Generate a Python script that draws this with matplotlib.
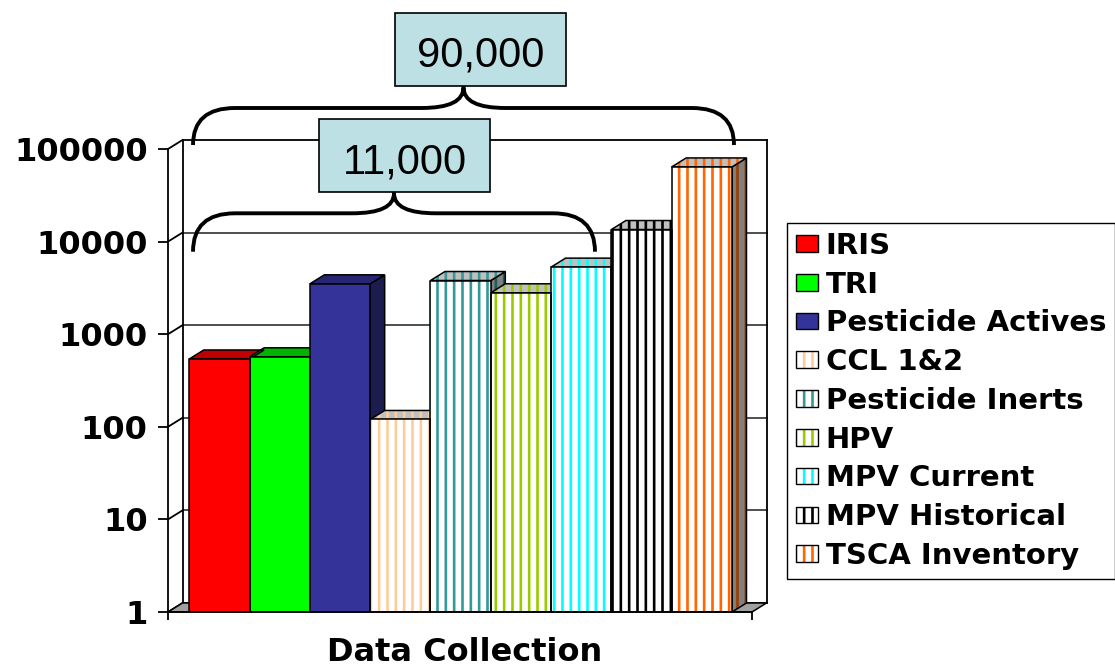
import numpy as np
import matplotlib
matplotlib.use("Agg")
import matplotlib.pyplot as plt
from matplotlib.patches import Polygon, Rectangle, Patch, PathPatch
from matplotlib.path import Path
from matplotlib.transforms import Affine2D, IdentityTransform
from matplotlib.ticker import NullLocator, FixedLocator

# ---- data -------------------------------------------------------------
categories = ["IRIS", "TRI", "Pesticide Actives", "CCL 1&2", "Pesticide Inerts",
              "HPV", "MPV Current", "MPV Historical", "TSCA Inventory"]
counts = [540, 570, 3500, 120, 3800, 2800, 5300, 13500, 64000]
tick_values = [1, 10, 100, 1000, 10000, 100000]
tick_labels = ["1", "10", "100", "1000", "10000", "100000"]
total_label = "90,000"
subset_label = "11,000"
x_title = "Data Collection"

# ---- styling ----------------------------------------------------------
# (front fill, stripe colour or None, top fill, side fill, side stripe colour)
styles = [
    ("#FF0000", None, "#C00000", "#800000", None),
    ("#00FF00", None, "#00B400", "#008000", None),
    ("#333399", None, "#262673", "#1C1C4F", None),
    ("#FFFFFF", "#FFCC99", "#C0C0C0", "#808080", "#B38F6B"),
    ("#FFFFFF", "#339999", "#C0C0C0", "#808080", "#1F5C5C"),
    ("#FFFFFF", "#99CC00", "#C0C0C0", "#808080", "#5C7A00"),
    ("#FFFFFF", "#00FFFF", "#C0C0C0", "#808080", "#009999"),
    ("#FFFFFF", "#000000", "#C0C0C0", "#808080", "#000000"),
    ("#FFFFFF", "#FF6600", "#C0C0C0", "#808080", "#993D00"),
]
STRIPES = "||"
plt.rcParams["hatch.linewidth"] = 1.9
plt.rcParams["font.family"] = ["DejaVu Sans"]

W, H = 1115, 667
fig = plt.figure(figsize=(W / 100, H / 100), dpi=100)
fig.patch.set_facecolor("white")
# transform for annotation geometry given in pixels from the top-left corner
img = Affine2D().scale(1 / W, -1 / H).translate(0, 1) + fig.transFigure

ax = fig.add_axes([168 / W, 1 - 612 / H, 584 / W, 463 / H])
ax.set_facecolor("none")
ax.set_yscale("log")
ax.set_ylim(tick_values[0], tick_values[-1])
xmin, xmax = -0.853, 8.832
ax.set_xlim(xmin, xmax)
x = np.arange(len(categories))

# depth of the pseudo-3D extrusion, in pixels
DX, DY = 14.5, 9.0
ident = IdentityTransform()


def px(xv, yv):
    return ax.transData.transform((xv, yv))


# ---- walls and floor ---------------------------------------------------
fx0, fy0 = px(xmin, tick_values[0])
fx1, _ = px(xmax, tick_values[0])
_, ftop = px(xmin, tick_values[-1])

floor = Polygon([(fx0, fy0), (fx1, fy0), (fx1 + DX, fy0 + DY), (fx0 + DX, fy0 + DY)],
                closed=True, facecolor="#A0A0A0", edgecolor="black", linewidth=1.1,
                transform=ident, clip_on=False, zorder=1)
ax.add_patch(floor)

for v in tick_values:
    _, yy = px(xmin, v)
    col = "black" if v in (tick_values[0], tick_values[-1]) else "#404040"
    ax.add_line(plt.Line2D([fx0 + DX, fx1 + DX], [yy + DY, yy + DY], color=col,
                           linewidth=1.3, transform=ident, clip_on=False, zorder=0.6))
    ax.add_line(plt.Line2D([fx0, fx0 + DX], [yy, yy + DY], color="black",
                           linewidth=1.3, transform=ident, clip_on=False, zorder=0.6))
for xx in (fx0 + DX, fx1 + DX):
    ax.add_line(plt.Line2D([xx, xx], [fy0 + DY, ftop + DY], color="black",
                           linewidth=1.3, transform=ident, clip_on=False, zorder=0.6))

# ---- top and side faces of each column -----------------------------------
for i, v in enumerate(counts):
    face, stripe, top_c, side_c, side_stripe = styles[i]
    (x0, y0) = px(x[i] - 0.5, tick_values[0])
    (x1, yt) = px(x[i] + 0.5, v)
    top = [(x0, yt), (x1, yt), (x1 + DX, yt + DY), (x0 + DX, yt + DY)]
    side = [(x1, y0), (x1 + DX, y0 + DY), (x1 + DX, yt + DY), (x1, yt)]
    for verts, fc, sc, z in ((side, side_c, side_stripe, 2), (top, top_c, stripe, 3)):
        kw = dict(closed=True, transform=ident, clip_on=False)
        if sc is None:
            ax.add_patch(Polygon(verts, facecolor=fc, linewidth=0, zorder=z, **kw))
        else:
            ax.add_patch(Polygon(verts, facecolor=fc, edgecolor=sc, hatch=STRIPES,
                                 linewidth=0, zorder=z, **kw))
        ax.add_patch(Polygon(verts, facecolor="none", edgecolor="black",
                             linewidth=1.1, zorder=z + 0.5, **kw))

# ---- front faces -------------------------------------------------------
heights = np.array(counts, dtype=float) - tick_values[0]
fronts = ax.bar(x, heights, bottom=tick_values[0], width=1.0,
                color=[s[0] for s in styles], linewidth=0, zorder=4)
for p, s in zip(fronts.patches, styles):
    if s[1] is not None:
        p.set_hatch(STRIPES)
        p.set_edgecolor(s[1])
ax.bar(x, heights, bottom=tick_values[0], width=1.0, fill=False,
       edgecolor="black", linewidth=1.1, zorder=4.5)

# ---- axes --------------------------------------------------------------
for side in ("top", "right"):
    ax.spines[side].set_visible(False)
for side in ("left", "bottom"):
    ax.spines[side].set_color("black")
    ax.spines[side].set_linewidth(1.3)
    ax.spines[side].set_zorder(5)
ax.yaxis.set_major_locator(FixedLocator(tick_values))
ax.yaxis.set_minor_locator(NullLocator())
ax.set_yticklabels(tick_labels)
ax.set_xticks([xmin, xmax])
ax.set_xticklabels(["", ""])
ax.tick_params(axis="y", direction="out", length=7.2, width=1.3, pad=7.5,
               labelsize=23)
ax.tick_params(axis="x", direction="out", length=5.8, width=1.3)
for lab in ax.get_yticklabels():
    lab.set_fontweight("bold")

ax.set_xlabel(x_title, fontsize=23, fontweight="bold")
ax.xaxis.label.set_va("baseline")
ax.xaxis.set_label_coords((465 - 168) / 584, -(661 - 612) / 463)

# ---- legend ------------------------------------------------------------
handles = []
for face, stripe, *_ in styles:
    if stripe is None:
        handles.append(Patch(facecolor=face, edgecolor="black", linewidth=1.0))
    else:
        handles.append((Patch(facecolor="white", edgecolor=stripe, hatch=STRIPES, linewidth=0),
                        Patch(facecolor="none", edgecolor="black", linewidth=1.0)))
leg = fig.legend(handles, categories, loc="upper left",
                 bbox_to_anchor=(787 / W, 1 - 223 / H), bbox_transform=fig.transFigure,
                 borderaxespad=0, frameon=True, fancybox=False, framealpha=1,
                 edgecolor="black", prop=dict(family="DejaVu Sans", weight="bold", size=21),
                 handlelength=0.75, handleheight=0.5, handletextpad=0.28,
                 labelspacing=0.37, borderpad=0.3)
leg.get_frame().set_linewidth(1.0)

# ---- callouts with braces ---------------------------------------------


def brace(left, right, y_tip, y_bar, y_peak, r_end=42, r_mid=42):
    mid = (left + right) / 2
    verts = [(left, y_tip), (left, y_bar), (left + r_end, y_bar),
             (mid - r_mid, y_bar), (mid, y_bar), (mid, y_peak),
             (mid, y_bar), (mid + r_mid, y_bar),
             (right - r_end, y_bar), (right, y_bar), (right, y_tip)]
    codes = [Path.MOVETO, Path.CURVE3, Path.CURVE3,
             Path.LINETO, Path.CURVE3, Path.CURVE3,
             Path.CURVE3, Path.CURVE3,
             Path.LINETO, Path.CURVE3, Path.CURVE3]
    fig.add_artist(PathPatch(Path(verts, codes), facecolor="none", edgecolor="black",
                             linewidth=2.8, capstyle="butt", joinstyle="round",
                             transform=img, zorder=6))


def callout(text, x0, y0, x1, y1, tx, ty):
    fig.add_artist(Rectangle((x0, y0), x1 - x0, y1 - y0, facecolor="#BCE0E4",
                             edgecolor="black", linewidth=1.2, transform=img, zorder=7))
    fig.text(tx, ty, text, transform=img, ha="center", va="baseline",
             family="Liberation Sans", fontsize=30, zorder=8)


brace(193, 734, 145, 108, 87.3)
brace(193, 595, 251.7, 213.3, 193.3)
callout(total_label, 394.6, 13.3, 566, 86, 480.6, 66.7)
callout(subset_label, 318.7, 119, 490, 192.3, 404.7, 173.3)

fig.savefig("out.png", dpi=100, facecolor="white")
